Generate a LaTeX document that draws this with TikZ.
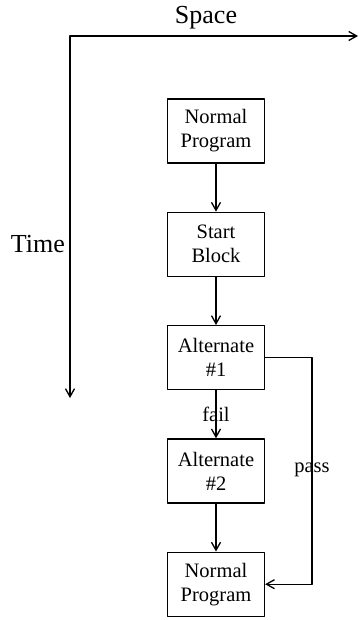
\documentclass[tikz,border=0pt]{standalone}
\usepackage{fontspec}
\setmainfont{Liberation Serif}
\usetikzlibrary{arrows.meta,positioning}
\tikzset{
every picture/.style={line cap=round,line join=round},
>={Straight Barb[length=8pt,width=9pt]},
block box/.style={
  draw=black,
  line width=1.3pt,
  minimum width=97pt,
  minimum height=64pt,
  align=center,
  inner sep=2pt,
  font=\fontsize{20.5}{24}\selectfont
},
fig flow/.style={draw=black,->,line width=1.3pt},
fig axis/.style={draw=black,<->,line width=1.3pt},
axis label/.style={font=\fontsize{26}{29}\selectfont},
fig label/.style={font=\fontsize{20.5}{23}\selectfont,inner sep=1pt}
}
\begin{document}
\begin{tikzpicture}[x=1pt,y=1pt,node distance=48pt]
\useasboundingbox (0,0) rectangle (359,-620);
% axes
\coordinate (origin) at (70,-36);
\coordinate (spaceend) at (358,-36);
\coordinate (timeend) at (70,-398);
\draw[fig axis] (spaceend) -- (origin) -- (timeend);
\node[axis label] (space) at (206,-18) {Space};
\node[axis label,anchor=east,inner sep=1pt] (time) at (66,-244) {Time};
% blocks
\node[block box] (normal1) at (216,-131) {Normal\\Program};
\node[block box,below=of normal1] (start) {Start\\Block};
\node[block box,below=of start] (alt1) {Alternate\\\#1};
\node[block box,below=of alt1] (alt2) {Alternate\\\#2};
\node[block box,below=of alt2] (normal2) {Normal\\Program};
\draw[fig flow] (normal1) -- (start);
\draw[fig flow] (start) -- (alt1);
\draw[fig flow] (alt1) -- node[fig label] (fail) {fail} (alt2);
\draw[fig flow] (alt2) -- (normal2);
\coordinate (passx) at (312,-470);
\draw[fig flow] (alt1.east) -| (passx) |- (normal2.east);
\node[fig label] (pass) at (passx) {pass};
\end{tikzpicture}
\end{document}
